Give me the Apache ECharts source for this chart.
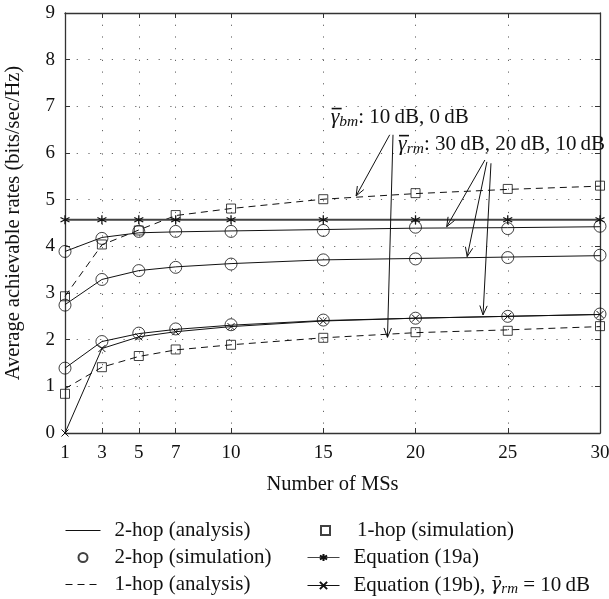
<!DOCTYPE html>
<html><head><meta charset="utf-8">
<script src="https://cdn.jsdelivr.net/npm/echarts@6/dist/echarts.min.js"></script>
<style>html,body{margin:0;padding:0;background:#fff}#c{width:609px;height:599px}</style>
</head><body><div id="c"></div>
<script>
// ---------- data ----------
const msCounts = [1, 3, 5, 7, 10, 15, 20, 25, 30];
const twoHopAna30 = [3.89, 4.19, 4.29, 4.31, 4.33, 4.36, 4.39, 4.40, 4.42];
const twoHopSim30 = [3.89, 4.17, 4.32, 4.32, 4.32, 4.34, 4.41, 4.38, 4.43];
const twoHopAna20 = [2.75, 3.29, 3.48, 3.56, 3.63, 3.71, 3.74, 3.77, 3.80];
const twoHopSim20 = [2.74, 3.29, 3.48, 3.55, 3.62, 3.71, 3.73, 3.76, 3.81];
const twoHopAna10 = [1.39, 1.96, 2.13, 2.22, 2.31, 2.41, 2.46, 2.50, 2.54];
const twoHopSim10 = [1.39, 1.96, 2.14, 2.23, 2.32, 2.42, 2.46, 2.50, 2.55];
const oneHopAnaBm10 = [2.93, 4.03, 4.35, 4.66, 4.81, 5.01, 5.13, 5.22, 5.29];
const oneHopSimBm10 = [2.93, 4.04, 4.34, 4.67, 4.81, 5.01, 5.14, 5.23, 5.30];
const oneHopAnaBm0 = [0.95, 1.41, 1.64, 1.78, 1.89, 2.04, 2.15, 2.21, 2.28];
const oneHopSimBm0 = [0.84, 1.41, 1.65, 1.79, 1.89, 2.04, 2.16, 2.19, 2.29];
const eq19a = [4.57, 4.57, 4.57, 4.57, 4.57, 4.57, 4.57, 4.57, 4.57];
const eq19b = [0, 1.81, 2.06, 2.17, 2.28, 2.40, 2.46, 2.50, 2.54];
const yTickValues = [0, 1, 2, 3, 4, 5, 6, 7, 8, 9];

const names = {
  a2: '2-hop (analysis)', s2: '2-hop (simulation)', a1: '1-hop (analysis)',
  s1: '1-hop (simulation)', e19a: 'Equation (19a)', e19b: 'Equation (19b), γ̄rm = 10 dB'
};

// annotation anchors (data coordinates): arrows [x1,y1,x2,y2]
const arrowLines = [
  [18.6, 6.39, 16.78, 5.08],
  [18.78, 6.39, 18.48, 2.05],
  [23.76, 5.85, 21.69, 4.42],
  [23.87, 5.81, 22.8, 3.78],
  [24.09, 5.78, 23.66, 2.53]
];
const annotTexts = [
  { x: 15.4, y: 6.77, sub: 'bm', rest: ': 10\u2009dB, 0\u2009dB' },
  { x: 19.05, y: 6.19, sub: 'rm', rest: ': 30\u2009dB, 20\u2009dB, 10\u2009dB' }
];

// ---------- styling ----------
const FONT = 'Liberation Serif';
const INK = '#111';
const pairs = a => msCounts.map((x, i) => [x, a[i]]);
const ASTER = 'path://M5,0L5,10M0.67,2.5L9.33,7.5M0.67,7.5L9.33,2.5';
const CROSS = 'path://M0,0L10,10M0,10L10,0';
const hollow = { color: 'rgba(0,0,0,0)', borderColor: INK, borderWidth: 1 };
const noSym = { color: 'rgba(0,0,0,0)', borderColor: 'rgba(0,0,0,0)', borderWidth: 0 };

function anaLine(name, arr, dashed) {
  return { type: 'line', name, data: pairs(arr), symbol: 'circle', symbolSize: 0.1, showSymbol: false,
    itemStyle: noSym, xAxisIndex: 0, yAxisIndex: 0,
    lineStyle: { color: INK, width: 1, type: dashed ? [7, 5] : 'solid' }, z: 3, silent: true };
}
function simScatter(name, arr, sym, size) {
  return { type: 'scatter', name, data: pairs(arr), symbol: sym, symbolSize: size,
    itemStyle: hollow, z: 4, silent: true };
}

const series = [
  anaLine(names.a2, twoHopAna30), anaLine(names.a2, twoHopAna20), anaLine(names.a2, twoHopAna10),
  simScatter(names.s2, twoHopSim30, 'circle', 12), simScatter(names.s2, twoHopSim20, 'circle', 12), simScatter(names.s2, twoHopSim10, 'circle', 12),
  anaLine(names.a1, oneHopAnaBm10, true), anaLine(names.a1, oneHopAnaBm0, true),
  simScatter(names.s1, oneHopSimBm10, 'rect', 9), simScatter(names.s1, oneHopSimBm0, 'rect', 9),
  { type: 'line', name: names.e19a, data: pairs(eq19a), symbol: ASTER, symbolSize: 9,
    itemStyle: { color: 'rgba(0,0,0,0)', borderColor: INK, borderWidth: 1.3 },
    lineStyle: { color: '#444', width: 2 }, z: 3, silent: true },
  { type: 'line', name: names.e19b, data: pairs(eq19b), symbol: CROSS, symbolSize: 7,
    itemStyle: { color: 'rgba(0,0,0,0)', borderColor: INK, borderWidth: 1 },
    lineStyle: { color: INK, width: 1 }, z: 3, silent: true },
  { type: 'custom', name: 'arrows', data: arrowLines, encode: { x: [0, 2], y: [1, 3] }, silent: true, z: 6,
    renderItem(params, api) {
      const p1 = api.coord([api.value(0), api.value(1)]);
      const p2 = api.coord([api.value(2), api.value(3)]);
      const ang = Math.atan2(p2[1] - p1[1], p2[0] - p1[0]);
      const L = 10, a = 0.38;
      const h1 = [p2[0] - L * Math.cos(ang - a), p2[1] - L * Math.sin(ang - a)];
      const h2 = [p2[0] - L * Math.cos(ang + a), p2[1] - L * Math.sin(ang + a)];
      return { type: 'group', children: [
        { type: 'line', shape: { x1: p1[0], y1: p1[1], x2: p2[0], y2: p2[1] }, style: { stroke: INK, lineWidth: 1 } },
        { type: 'polyline', shape: { points: [h1, p2, h2] }, style: { stroke: INK, fill: null, lineWidth: 1 } }
      ] };
    } },
  { type: 'custom', name: 'labels', data: annotTexts.map(t => [t.x, t.y]), silent: true, z: 7,
    renderItem(params, api) {
      const t = annotTexts[params.dataIndex];
      const p = api.coord([api.value(0), api.value(1)]);
      return { type: 'group', children: [
        { type: 'text', x: p[0], y: p[1], style: {
            text: '{g|γ}{s|' + t.sub + '}{n|' + t.rest + '}', align: 'left', verticalAlign: 'middle',
            rich: {
              g: { fontFamily: FONT, fontSize: 22, fontStyle: 'italic', fill: INK },
              s: { fontFamily: FONT, fontSize: 15.5, fontStyle: 'italic', fill: INK, padding: [10, 0, 0, 0] },
              n: { fontFamily: FONT, fontSize: 21, fill: INK }
            } } },
        { type: 'line', shape: { x1: p[0] + 1, y1: p[1] - 8.5, x2: p[0] + 11, y2: p[1] - 8.5 }, style: { stroke: INK, lineWidth: 1.6 } }
      ] };
    } }
];

const legendText = {
  fontFamily: FONT, fontSize: 21, color: INK, lineHeight: 21, padding: [0, 0, 0, 9],
  rich: {
    n: { fontFamily: FONT, fontSize: 21, color: INK, lineHeight: 21 },
    g: { fontFamily: 'DejaVu Serif', fontSize: 18, fontStyle: 'italic', color: INK, lineHeight: 21 },
    s: { fontFamily: FONT, fontSize: 15, fontStyle: 'italic', color: INK, lineHeight: 21, padding: [8, 0, 0, 0] }
  }
};
function legendFmt(n) {
  if (n === names.e19b) return '{n|Equation (19b), }{g|γ\u0304}{s|rm}{n| = 10\u2009dB}';
  return n;
}

const axisLineStyle = { color: '#333', width: 1.3 };
const legendCommon = {
  top: 520, orient: 'vertical', padding: 0, height: 79, itemHeight: 9, itemGap: 6,
  textStyle: legendText, formatter: legendFmt, symbolKeepAspect: true,
  lineStyle: { width: 1 }, selectedMode: false, inactiveColor: INK
};
const option = {
  animation: false,
  backgroundColor: '#fff',
  grid: { left: 65, right: 9, top: 13, bottom: 166, containLabel: false, outerBoundsMode: 'none' },
  xAxis: [
    { type: 'value', min: 1, max: 30, position: 'bottom',
      name: 'Number of MSs', nameLocation: 'middle', nameGap: 41,
      nameTextStyle: { fontFamily: FONT, fontSize: 20.5, color: INK },
      axisLine: { show: true, lineStyle: axisLineStyle },
      axisTick: { show: true, inside: true, length: 5, customValues: msCounts, lineStyle: { color: '#333' } },
      axisLabel: { customValues: msCounts, fontFamily: FONT, fontSize: 19, color: INK, margin: 11 },
      splitLine: { show: true, lineStyle: { color: '#666', type: [1.2, 10.5], width: 1 } } },
    { type: 'value', min: 1, max: 30, position: 'top',
      axisLine: { show: true, onZero: false, lineStyle: axisLineStyle },
      axisTick: { show: true, inside: true, length: 5, customValues: msCounts, lineStyle: { color: '#333' } },
      axisLabel: { show: false, customValues: msCounts }, splitLine: { show: false } }
  ],
  yAxis: [
    { type: 'value', min: 0, max: 9, interval: 1, position: 'left',
      name: 'Average achievable rates (bits/sec/Hz)', nameLocation: 'middle', nameGap: 41,
      nameTextStyle: { fontFamily: FONT, fontSize: 20.5, color: INK },
      axisLine: { show: true, lineStyle: axisLineStyle },
      axisTick: { show: true, inside: true, length: 5, lineStyle: { color: '#333' } },
      axisLabel: { fontFamily: FONT, fontSize: 19, color: INK, margin: 10,
        formatter: v => yTickValues.includes(v) ? String(v) : '' },
      splitLine: { show: true, lineStyle: { color: '#666', type: [1.2, 10.5], width: 1 } } },
    { type: 'value', min: 0, max: 9, interval: 1, position: 'right',
      axisLine: { show: true, onZero: false, lineStyle: axisLineStyle },
      axisTick: { show: true, inside: true, length: 5, lineStyle: { color: '#333' } },
      axisLabel: { show: false }, splitLine: { show: false } }
  ],
  legend: [
    Object.assign({}, legendCommon, { left: 65, itemWidth: 35, data: [names.a2, names.s2, names.a1] }),
    Object.assign({}, legendCommon, { left: 320, itemWidth: 9, data: [names.s1],
      textStyle: Object.assign({}, legendText, { padding: [0, 0, 0, 22] }) }),
    Object.assign({}, legendCommon, { left: 307, top: 547, height: 52, itemWidth: 32, data: [names.e19a, names.e19b] })
  ],
  series
};

const chart = echarts.init(document.getElementById('c'), null, { renderer: 'canvas' });
chart.setOption(option);
</script>
</body></html>
